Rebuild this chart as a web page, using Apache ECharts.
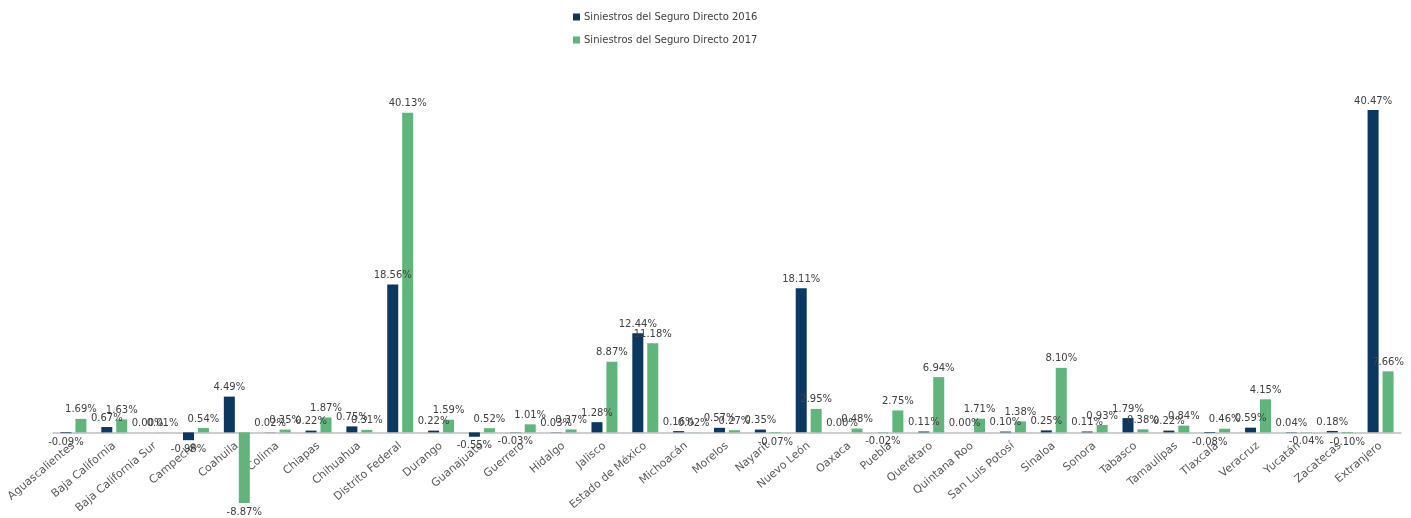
<!DOCTYPE html>
<html>
<head>
<meta charset="utf-8">
<script src="https://cdn.jsdelivr.net/npm/echarts@6/dist/echarts.min.js"></script>
<style>html,body{margin:0;padding:0;background:#fff}#c{width:1411px;height:518px}</style>
</head>
<body>
<div id="c"></div>
<script>
const categories = ["Aguascalientes","Baja California","Baja California Sur","Campeche","Coahuila","Colima","Chiapas","Chihuahua","Distrito Federal","Durango","Guanajuato","Guerrero","Hidalgo","Jalisco","Estado de México","Michoacán","Morelos","Nayarit","Nuevo León","Oaxaca","Puebla","Querétaro","Quintana Roo","San Luis Potosí","Sinaloa","Sonora","Tabasco","Tamaulipas","Tlaxcala","Veracruz","Yucatán","Zacatecas","Extranjero"];
const seriesNames = ["Siniestros del Seguro Directo 2016","Siniestros del Seguro Directo 2017"];
const values2016 = [-0.09,0.67,0.00,-0.98,4.49,0.02,0.22,0.75,18.56,0.22,-0.55,-0.03,0.03,1.28,12.44,0.16,0.57,0.35,18.11,0.00,-0.02,0.11,0.00,0.10,0.25,0.11,1.79,0.22,-0.08,0.59,0.04,0.18,40.47];
const values2017 = [1.69,1.63,0.01,0.54,-8.87,0.35,1.87,0.31,40.13,1.59,0.52,1.01,0.37,8.87,11.18,0.02,0.27,-0.07,2.95,0.48,2.75,6.94,1.71,1.38,8.10,0.93,0.38,0.84,0.46,4.15,-0.04,-0.10,7.66];
const colors = ["#0B3760","#5FB57B"];

const Y_MIN = -10, Y_MAX = 45, GRID_TOP = 74, GRID_BOTTOM = 6, H = 518;
const zeroOffset = (H - GRID_TOP - GRID_BOTTOM) * (0 - Y_MIN) / (Y_MAX - Y_MIN);

function toData(arr){
  return arr.map(v => ({value: v, label: {position: v < 0 ? 'bottom' : 'top'}}));
}
const chart = echarts.init(document.getElementById('c'));
chart.setOption({
  animation: false,
  textStyle: {fontFamily: 'DejaVu Sans'},
  legend: {
    orient: 'vertical', left: 568, top: 7,
    itemWidth: 7, itemHeight: 7, itemGap: 13,
    icon: 'rect',
    textStyle: {fontSize: 10, color: '#404040', padding: [0,0,0,-1]},
    data: seriesNames
  },
  grid: {left: 53, right: 10, top: GRID_TOP, bottom: GRID_BOTTOM, containLabel: false, outerBoundsMode: 'none'},
  xAxis: {
    type: 'category', data: categories, position: 'bottom', offset: -zeroOffset,
    axisLine: {onZero: false, lineStyle: {color: '#BFBFBF', width: 1.5}},
    axisTick: {show: false},
    axisLabel: {rotate: 40, interval: 0, fontSize: 11, color: '#595959', margin: 12}
  },
  yAxis: {
    type: 'value', min: Y_MIN, max: Y_MAX, show: false,
    splitLine: {show: false}
  },
  series: [
    {name: seriesNames[0], type: 'bar', data: toData(values2016), barWidth: 11, barGap: '36%',
     itemStyle: {color: colors[0]},
     label: {show: true, formatter: p => p.value.toFixed(2) + '%', fontSize: 10, color: '#404040', distance: 4}},
    {name: seriesNames[1], type: 'bar', data: toData(values2017), barWidth: 11,
     itemStyle: {color: colors[1]},
     label: {show: true, formatter: p => p.value.toFixed(2) + '%', fontSize: 10, color: '#404040', distance: 4}}
  ]
});
</script>
</body>
</html>
